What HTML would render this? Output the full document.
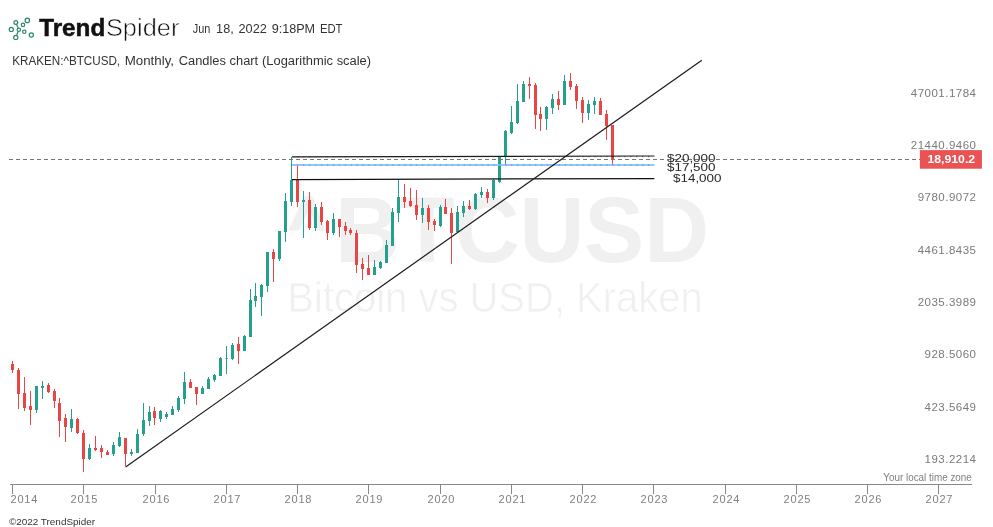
<!DOCTYPE html>
<html><head><meta charset="utf-8"><style>
html,body{margin:0;padding:0;background:#fff;}
body{width:993px;height:527px;overflow:hidden;position:relative;font-family:"Liberation Sans",sans-serif;}
svg{position:absolute;left:0;top:0;will-change:transform;}
.yl{font-size:11px;fill:#808080;letter-spacing:0.8px;}
.pl{font-size:11.5px;fill:#7a7a7a;letter-spacing:0.5px;}
.wm1{font-size:92.5px;font-weight:bold;fill:#f0f0f0;}
.wm2{font-size:43px;fill:#f0f0f0;stroke:#fff;stroke-width:0.6px;}
.hl{font-size:11.5px;fill:#262626;}
</style></head><body>
<svg width="993" height="527" viewBox="0 0 993 527">
<polygon points="288.2,230.5 304.2,196.3 312.3,196.3 324.9,230.5 317.1,230.5 309.1,209 299.1,230.5" fill="#f0f0f0"/>
<text id="wm1" x="335" y="262" class="wm1" textLength="374" lengthAdjust="spacingAndGlyphs">BTCUSD</text>
<text id="wm2" x="287.3" y="312.3" class="wm2" textLength="415.5" lengthAdjust="spacingAndGlyphs">Bitcoin vs USD, Kraken</text>
<g id="candles">
<rect x="12" y="361" width="1" height="12" fill="#e84545"/>
<rect x="11" y="364" width="3" height="6" fill="#e84545"/>
<rect x="18" y="368" width="1" height="41" fill="#e84545"/>
<rect x="17" y="370" width="3" height="24" fill="#e84545"/>
<rect x="24" y="377" width="1" height="34" fill="#e84545"/>
<rect x="23" y="393" width="3" height="15" fill="#e84545"/>
<rect x="30" y="391" width="1" height="34" fill="#e84545"/>
<rect x="29" y="406" width="3" height="4" fill="#e84545"/>
<rect x="36" y="386" width="1" height="27" fill="#26a08e"/>
<rect x="35" y="386" width="3" height="24" fill="#26a08e"/>
<rect x="42" y="381" width="1" height="18" fill="#26a08e"/>
<rect x="41" y="386" width="3" height="2" fill="#26a08e"/>
<rect x="48" y="383" width="1" height="10" fill="#e84545"/>
<rect x="47" y="385" width="3" height="7" fill="#e84545"/>
<rect x="54" y="389" width="1" height="19" fill="#e84545"/>
<rect x="53" y="391" width="3" height="10" fill="#e84545"/>
<rect x="59" y="398" width="1" height="39" fill="#e84545"/>
<rect x="58" y="403" width="3" height="18" fill="#e84545"/>
<rect x="65" y="414" width="1" height="28" fill="#e84545"/>
<rect x="64" y="418" width="3" height="9" fill="#e84545"/>
<rect x="71" y="409" width="1" height="23" fill="#26a08e"/>
<rect x="70" y="419" width="3" height="9" fill="#26a08e"/>
<rect x="77" y="418" width="1" height="16" fill="#e84545"/>
<rect x="76" y="419" width="3" height="14" fill="#e84545"/>
<rect x="83" y="430" width="1" height="42" fill="#e84545"/>
<rect x="82" y="433" width="3" height="26" fill="#e84545"/>
<rect x="89" y="444" width="1" height="16" fill="#26a08e"/>
<rect x="88" y="448" width="3" height="11" fill="#26a08e"/>
<rect x="95" y="436" width="1" height="15" fill="#e84545"/>
<rect x="94" y="448" width="3" height="2" fill="#e84545"/>
<rect x="101" y="445" width="1" height="13" fill="#e84545"/>
<rect x="100" y="448" width="3" height="4" fill="#e84545"/>
<rect x="107" y="450" width="1" height="5" fill="#e84545"/>
<rect x="106" y="452" width="3" height="3" fill="#e84545"/>
<rect x="113" y="442" width="1" height="14" fill="#26a08e"/>
<rect x="112" y="445" width="3" height="9" fill="#26a08e"/>
<rect x="119" y="432" width="1" height="15" fill="#26a08e"/>
<rect x="118" y="437" width="3" height="9" fill="#26a08e"/>
<rect x="125" y="438" width="1" height="28" fill="#e84545"/>
<rect x="124" y="438" width="3" height="16" fill="#e84545"/>
<rect x="131" y="449" width="1" height="7" fill="#26a08e"/>
<rect x="130" y="452" width="3" height="2" fill="#26a08e"/>
<rect x="137" y="429" width="1" height="24" fill="#26a08e"/>
<rect x="136" y="434" width="3" height="19" fill="#26a08e"/>
<rect x="143" y="403" width="1" height="33" fill="#26a08e"/>
<rect x="142" y="420" width="3" height="14" fill="#26a08e"/>
<rect x="149" y="406" width="1" height="20" fill="#26a08e"/>
<rect x="148" y="412" width="3" height="9" fill="#26a08e"/>
<rect x="154" y="407" width="1" height="18" fill="#e84545"/>
<rect x="153" y="411" width="3" height="7" fill="#e84545"/>
<rect x="160" y="410" width="1" height="12" fill="#26a08e"/>
<rect x="159" y="411" width="3" height="8" fill="#26a08e"/>
<rect x="166" y="412" width="1" height="7" fill="#26a08e"/>
<rect x="165" y="414" width="3" height="3" fill="#26a08e"/>
<rect x="172" y="406" width="1" height="9" fill="#26a08e"/>
<rect x="171" y="409" width="3" height="6" fill="#26a08e"/>
<rect x="178" y="396" width="1" height="16" fill="#26a08e"/>
<rect x="177" y="398" width="3" height="12" fill="#26a08e"/>
<rect x="184" y="372" width="1" height="32" fill="#26a08e"/>
<rect x="183" y="382" width="3" height="17" fill="#26a08e"/>
<rect x="190" y="379" width="1" height="9" fill="#e84545"/>
<rect x="189" y="382" width="3" height="6" fill="#e84545"/>
<rect x="196" y="387" width="1" height="18" fill="#e84545"/>
<rect x="195" y="387" width="3" height="7" fill="#e84545"/>
<rect x="202" y="386" width="1" height="8" fill="#26a08e"/>
<rect x="201" y="388" width="3" height="6" fill="#26a08e"/>
<rect x="208" y="377" width="1" height="12" fill="#26a08e"/>
<rect x="207" y="379" width="3" height="10" fill="#26a08e"/>
<rect x="214" y="374" width="1" height="8" fill="#26a08e"/>
<rect x="213" y="375" width="3" height="5" fill="#26a08e"/>
<rect x="220" y="357" width="1" height="19" fill="#26a08e"/>
<rect x="219" y="358" width="3" height="18" fill="#26a08e"/>
<rect x="226" y="346" width="1" height="28" fill="#26a08e"/>
<rect x="225" y="358.2" width="3" height="0.6" fill="#26a08e"/>
<rect x="232" y="343" width="1" height="17" fill="#26a08e"/>
<rect x="231" y="345" width="3" height="14" fill="#26a08e"/>
<rect x="238" y="337" width="1" height="27" fill="#e84545"/>
<rect x="237" y="344" width="3" height="7" fill="#e84545"/>
<rect x="244" y="335" width="1" height="16" fill="#26a08e"/>
<rect x="243" y="336" width="3" height="15" fill="#26a08e"/>
<rect x="250" y="289" width="1" height="48" fill="#26a08e"/>
<rect x="249" y="300" width="3" height="37" fill="#26a08e"/>
<rect x="255" y="283" width="1" height="24" fill="#26a08e"/>
<rect x="254" y="296" width="3" height="5" fill="#26a08e"/>
<rect x="261" y="284" width="1" height="32" fill="#26a08e"/>
<rect x="260" y="285" width="3" height="12" fill="#26a08e"/>
<rect x="267" y="252" width="1" height="40" fill="#26a08e"/>
<rect x="266" y="252" width="3" height="34" fill="#26a08e"/>
<rect x="273" y="249" width="1" height="33" fill="#e84545"/>
<rect x="272" y="252" width="3" height="7" fill="#e84545"/>
<rect x="279" y="231" width="1" height="30" fill="#26a08e"/>
<rect x="278" y="231" width="3" height="28" fill="#26a08e"/>
<rect x="285" y="193" width="1" height="49" fill="#26a08e"/>
<rect x="284" y="201" width="3" height="31" fill="#26a08e"/>
<rect x="291" y="157" width="1" height="49" fill="#26a08e"/>
<rect x="290" y="180" width="3" height="22" fill="#26a08e"/>
<rect x="297" y="166" width="1" height="41" fill="#e84545"/>
<rect x="296" y="180" width="3" height="22" fill="#e84545"/>
<rect x="303" y="191" width="1" height="47" fill="#26a08e"/>
<rect x="302" y="200" width="3" height="2" fill="#26a08e"/>
<rect x="309" y="192" width="1" height="38" fill="#e84545"/>
<rect x="308" y="200" width="3" height="28" fill="#e84545"/>
<rect x="315" y="204" width="1" height="27" fill="#26a08e"/>
<rect x="314" y="207" width="3" height="21" fill="#26a08e"/>
<rect x="321" y="202" width="1" height="23" fill="#e84545"/>
<rect x="320" y="207" width="3" height="15" fill="#e84545"/>
<rect x="327" y="220" width="1" height="20" fill="#e84545"/>
<rect x="326" y="221" width="3" height="12" fill="#e84545"/>
<rect x="333" y="213" width="1" height="22" fill="#26a08e"/>
<rect x="332" y="219" width="3" height="14" fill="#26a08e"/>
<rect x="339" y="219" width="1" height="18" fill="#e84545"/>
<rect x="338" y="219" width="3" height="8" fill="#e84545"/>
<rect x="345" y="222" width="1" height="13" fill="#e84545"/>
<rect x="344" y="226" width="3" height="5" fill="#e84545"/>
<rect x="350" y="228" width="1" height="7" fill="#e84545"/>
<rect x="349" y="230" width="3" height="3" fill="#e84545"/>
<rect x="356" y="230" width="1" height="43" fill="#e84545"/>
<rect x="355" y="233" width="3" height="32" fill="#e84545"/>
<rect x="362" y="258" width="1" height="22" fill="#e84545"/>
<rect x="361" y="264" width="3" height="5" fill="#e84545"/>
<rect x="368" y="255" width="1" height="20" fill="#e84545"/>
<rect x="367" y="268" width="3" height="7" fill="#e84545"/>
<rect x="374" y="260" width="1" height="15" fill="#26a08e"/>
<rect x="373" y="267" width="3" height="8" fill="#26a08e"/>
<rect x="380" y="261" width="1" height="8" fill="#26a08e"/>
<rect x="379" y="262" width="3" height="6" fill="#26a08e"/>
<rect x="386" y="240" width="1" height="23" fill="#26a08e"/>
<rect x="385" y="245" width="3" height="18" fill="#26a08e"/>
<rect x="392" y="208" width="1" height="38" fill="#26a08e"/>
<rect x="391" y="212" width="3" height="34" fill="#26a08e"/>
<rect x="398" y="179" width="1" height="43" fill="#26a08e"/>
<rect x="397" y="197" width="3" height="16" fill="#26a08e"/>
<rect x="404" y="184" width="1" height="24" fill="#e84545"/>
<rect x="403" y="197" width="3" height="5" fill="#e84545"/>
<rect x="410" y="188" width="1" height="19" fill="#e84545"/>
<rect x="409" y="201" width="3" height="5" fill="#e84545"/>
<rect x="416" y="190" width="1" height="30" fill="#e84545"/>
<rect x="415" y="205" width="3" height="10" fill="#e84545"/>
<rect x="422" y="198" width="1" height="25" fill="#26a08e"/>
<rect x="421" y="208" width="3" height="7" fill="#26a08e"/>
<rect x="428" y="205" width="1" height="25" fill="#e84545"/>
<rect x="427" y="208" width="3" height="14" fill="#e84545"/>
<rect x="434" y="219" width="1" height="12" fill="#e84545"/>
<rect x="433" y="221" width="3" height="4" fill="#e84545"/>
<rect x="440" y="205" width="1" height="22" fill="#26a08e"/>
<rect x="439" y="207" width="3" height="19" fill="#26a08e"/>
<rect x="445" y="199" width="1" height="15" fill="#e84545"/>
<rect x="444" y="207" width="3" height="7" fill="#e84545"/>
<rect x="451" y="208" width="1" height="56" fill="#e84545"/>
<rect x="450" y="213" width="3" height="20" fill="#e84545"/>
<rect x="457" y="206" width="1" height="26" fill="#26a08e"/>
<rect x="456" y="212" width="3" height="20" fill="#26a08e"/>
<rect x="463" y="201" width="1" height="16" fill="#26a08e"/>
<rect x="462" y="206" width="3" height="7" fill="#26a08e"/>
<rect x="469" y="200" width="1" height="10" fill="#e84545"/>
<rect x="468" y="206" width="3" height="3" fill="#e84545"/>
<rect x="475" y="193" width="1" height="17" fill="#26a08e"/>
<rect x="474" y="194" width="3" height="15" fill="#26a08e"/>
<rect x="481" y="187" width="1" height="11" fill="#26a08e"/>
<rect x="480" y="192" width="3" height="3" fill="#26a08e"/>
<rect x="487" y="189" width="1" height="14" fill="#e84545"/>
<rect x="486" y="192" width="3" height="6" fill="#e84545"/>
<rect x="493" y="179" width="1" height="21" fill="#26a08e"/>
<rect x="492" y="180" width="3" height="18" fill="#26a08e"/>
<rect x="499" y="157" width="1" height="26" fill="#26a08e"/>
<rect x="498" y="157" width="3" height="25" fill="#26a08e"/>
<rect x="505" y="130" width="1" height="34" fill="#26a08e"/>
<rect x="504" y="131" width="3" height="26" fill="#26a08e"/>
<rect x="511" y="106" width="1" height="28" fill="#26a08e"/>
<rect x="510" y="122" width="3" height="11" fill="#26a08e"/>
<rect x="517" y="84" width="1" height="40" fill="#26a08e"/>
<rect x="516" y="101" width="3" height="22" fill="#26a08e"/>
<rect x="523" y="81" width="1" height="21" fill="#26a08e"/>
<rect x="522" y="84" width="3" height="18" fill="#26a08e"/>
<rect x="529" y="77" width="1" height="22" fill="#e84545"/>
<rect x="528" y="84" width="3" height="2" fill="#e84545"/>
<rect x="535" y="83" width="1" height="46" fill="#e84545"/>
<rect x="534" y="85" width="3" height="30" fill="#e84545"/>
<rect x="540" y="107" width="1" height="24" fill="#e84545"/>
<rect x="539" y="114" width="3" height="5" fill="#e84545"/>
<rect x="546" y="106" width="1" height="24" fill="#26a08e"/>
<rect x="545" y="107" width="3" height="12" fill="#26a08e"/>
<rect x="552" y="94" width="1" height="20" fill="#26a08e"/>
<rect x="551" y="99" width="3" height="9" fill="#26a08e"/>
<rect x="558" y="91" width="1" height="19" fill="#e84545"/>
<rect x="557" y="99" width="3" height="6" fill="#e84545"/>
<rect x="564" y="75" width="1" height="30" fill="#26a08e"/>
<rect x="563" y="81" width="3" height="24" fill="#26a08e"/>
<rect x="570" y="73" width="1" height="17" fill="#e84545"/>
<rect x="569" y="81" width="3" height="6" fill="#e84545"/>
<rect x="576" y="84" width="1" height="25" fill="#e84545"/>
<rect x="575" y="86" width="3" height="15" fill="#e84545"/>
<rect x="582" y="97" width="1" height="26" fill="#e84545"/>
<rect x="581" y="100" width="3" height="13" fill="#e84545"/>
<rect x="588" y="100" width="1" height="20" fill="#26a08e"/>
<rect x="587" y="104" width="3" height="9" fill="#26a08e"/>
<rect x="594" y="97" width="1" height="17" fill="#26a08e"/>
<rect x="593" y="101" width="3" height="4" fill="#26a08e"/>
<rect x="600" y="98" width="1" height="17" fill="#e84545"/>
<rect x="599" y="101" width="3" height="14" fill="#e84545"/>
<rect x="606" y="110" width="1" height="30" fill="#e84545"/>
<rect x="605" y="114" width="3" height="12" fill="#e84545"/>
<rect x="612" y="125" width="1" height="39" fill="#e84545"/>
<rect x="611" y="125" width="3" height="35" fill="#e84545"/>
</g>
<line x1="9" y1="159.5" x2="920" y2="159.5" stroke="#777" stroke-width="1" stroke-dasharray="4 3"/>
<line x1="292" y1="156.9" x2="654.5" y2="156.0" stroke="#1a1a1a" stroke-width="1.15"/>
<rect x="292" y="164.1" width="362.5" height="1.8" fill="#8cc0f2"/>
<g fill="#5a9fe6"><circle cx="297.8" cy="165" r="0.8"/><circle cx="303.7" cy="165" r="0.8"/><circle cx="309.7" cy="165" r="0.8"/><circle cx="315.6" cy="165" r="0.8"/><circle cx="321.6" cy="165" r="0.8"/><circle cx="327.5" cy="165" r="0.8"/><circle cx="333.5" cy="165" r="0.8"/><circle cx="339.4" cy="165" r="0.8"/><circle cx="345.4" cy="165" r="0.8"/><circle cx="351.3" cy="165" r="0.8"/><circle cx="357.3" cy="165" r="0.8"/><circle cx="363.2" cy="165" r="0.8"/><circle cx="369.1" cy="165" r="0.8"/><circle cx="375.1" cy="165" r="0.8"/><circle cx="381.0" cy="165" r="0.8"/><circle cx="387.0" cy="165" r="0.8"/><circle cx="392.9" cy="165" r="0.8"/><circle cx="398.9" cy="165" r="0.8"/><circle cx="404.8" cy="165" r="0.8"/><circle cx="410.8" cy="165" r="0.8"/><circle cx="416.7" cy="165" r="0.8"/><circle cx="422.7" cy="165" r="0.8"/><circle cx="428.6" cy="165" r="0.8"/><circle cx="434.6" cy="165" r="0.8"/><circle cx="440.5" cy="165" r="0.8"/><circle cx="446.4" cy="165" r="0.8"/><circle cx="452.4" cy="165" r="0.8"/><circle cx="458.3" cy="165" r="0.8"/><circle cx="464.3" cy="165" r="0.8"/><circle cx="470.2" cy="165" r="0.8"/><circle cx="476.2" cy="165" r="0.8"/><circle cx="482.1" cy="165" r="0.8"/><circle cx="488.1" cy="165" r="0.8"/><circle cx="494.0" cy="165" r="0.8"/><circle cx="500.0" cy="165" r="0.8"/><circle cx="505.9" cy="165" r="0.8"/><circle cx="511.8" cy="165" r="0.8"/><circle cx="517.8" cy="165" r="0.8"/><circle cx="523.7" cy="165" r="0.8"/><circle cx="529.7" cy="165" r="0.8"/><circle cx="535.6" cy="165" r="0.8"/><circle cx="541.6" cy="165" r="0.8"/><circle cx="547.5" cy="165" r="0.8"/><circle cx="553.5" cy="165" r="0.8"/><circle cx="559.4" cy="165" r="0.8"/><circle cx="565.4" cy="165" r="0.8"/><circle cx="571.3" cy="165" r="0.8"/><circle cx="577.3" cy="165" r="0.8"/><circle cx="583.2" cy="165" r="0.8"/><circle cx="589.1" cy="165" r="0.8"/><circle cx="595.1" cy="165" r="0.8"/><circle cx="601.0" cy="165" r="0.8"/><circle cx="607.0" cy="165" r="0.8"/><circle cx="612.9" cy="165" r="0.8"/><circle cx="618.9" cy="165" r="0.8"/><circle cx="624.8" cy="165" r="0.8"/><circle cx="630.8" cy="165" r="0.8"/><circle cx="636.7" cy="165" r="0.8"/><circle cx="642.7" cy="165" r="0.8"/><circle cx="648.6" cy="165" r="0.8"/></g>
<g fill="#333"><circle cx="297.8" cy="156.6" r="0.6"/><circle cx="303.7" cy="156.6" r="0.6"/><circle cx="309.7" cy="156.6" r="0.6"/><circle cx="315.6" cy="156.6" r="0.6"/><circle cx="321.6" cy="156.6" r="0.6"/><circle cx="327.5" cy="156.6" r="0.6"/><circle cx="333.5" cy="156.6" r="0.6"/><circle cx="339.4" cy="156.6" r="0.6"/><circle cx="345.4" cy="156.6" r="0.6"/><circle cx="351.3" cy="156.6" r="0.6"/><circle cx="357.3" cy="156.6" r="0.6"/><circle cx="363.2" cy="156.6" r="0.6"/><circle cx="369.1" cy="156.6" r="0.6"/><circle cx="375.1" cy="156.6" r="0.6"/><circle cx="381.0" cy="156.6" r="0.6"/><circle cx="387.0" cy="156.6" r="0.6"/><circle cx="392.9" cy="156.6" r="0.6"/><circle cx="398.9" cy="156.6" r="0.6"/><circle cx="404.8" cy="156.6" r="0.6"/><circle cx="410.8" cy="156.6" r="0.6"/><circle cx="416.7" cy="156.6" r="0.6"/><circle cx="422.7" cy="156.6" r="0.6"/><circle cx="428.6" cy="156.6" r="0.6"/><circle cx="434.6" cy="156.6" r="0.6"/><circle cx="440.5" cy="156.6" r="0.6"/><circle cx="446.4" cy="156.6" r="0.6"/><circle cx="452.4" cy="156.6" r="0.6"/><circle cx="458.3" cy="156.6" r="0.6"/><circle cx="464.3" cy="156.6" r="0.6"/><circle cx="470.2" cy="156.6" r="0.6"/><circle cx="476.2" cy="156.6" r="0.6"/><circle cx="482.1" cy="156.6" r="0.6"/><circle cx="488.1" cy="156.6" r="0.6"/><circle cx="494.0" cy="156.6" r="0.6"/><circle cx="500.0" cy="156.6" r="0.6"/><circle cx="505.9" cy="156.6" r="0.6"/><circle cx="511.8" cy="156.6" r="0.6"/><circle cx="517.8" cy="156.6" r="0.6"/><circle cx="523.7" cy="156.6" r="0.6"/><circle cx="529.7" cy="156.6" r="0.6"/><circle cx="535.6" cy="156.6" r="0.6"/><circle cx="541.6" cy="156.6" r="0.6"/><circle cx="547.5" cy="156.6" r="0.6"/><circle cx="553.5" cy="156.6" r="0.6"/><circle cx="559.4" cy="156.6" r="0.6"/><circle cx="565.4" cy="156.6" r="0.6"/><circle cx="571.3" cy="156.6" r="0.6"/><circle cx="577.3" cy="156.6" r="0.6"/><circle cx="583.2" cy="156.6" r="0.6"/><circle cx="589.1" cy="156.6" r="0.6"/><circle cx="595.1" cy="156.6" r="0.6"/><circle cx="601.0" cy="156.6" r="0.6"/><circle cx="607.0" cy="156.6" r="0.6"/><circle cx="612.9" cy="156.6" r="0.6"/><circle cx="618.9" cy="156.6" r="0.6"/><circle cx="624.8" cy="156.6" r="0.6"/><circle cx="630.8" cy="156.6" r="0.6"/><circle cx="636.7" cy="156.6" r="0.6"/><circle cx="642.7" cy="156.6" r="0.6"/><circle cx="648.6" cy="156.6" r="0.6"/></g>
<line x1="292" y1="179.55" x2="654.3" y2="178.55" stroke="#111" stroke-width="1.2"/>
<line x1="125.6" y1="466.95" x2="701.8" y2="60.15" stroke="#1a1a1a" stroke-width="1.2"/>
<text id="h20" x="667" y="162.4" class="hl" textLength="48.5" lengthAdjust="spacingAndGlyphs">$20,000</text>
<text id="h17" x="667" y="171.3" class="hl" textLength="48.5" lengthAdjust="spacingAndGlyphs">$17,500</text>
<text id="h14" x="673" y="182.3" class="hl" textLength="48.5" lengthAdjust="spacingAndGlyphs">$14,000</text>
<rect x="10" y="484" width="962" height="1" fill="#888"/>
<rect x="12" y="484" width="1" height="10" fill="#888"/>
<text id="yr2014" x="10.5" y="503" class="yl">2014</text>
<rect x="83" y="484" width="1" height="10" fill="#888"/>
<text id="yr2015" x="84.4" y="503" class="yl" text-anchor="middle">2015</text>
<rect x="155" y="484" width="1" height="10" fill="#888"/>
<text id="yr2016" x="156.4" y="503" class="yl" text-anchor="middle">2016</text>
<rect x="226" y="484" width="1" height="10" fill="#888"/>
<text id="yr2017" x="227.4" y="503" class="yl" text-anchor="middle">2017</text>
<rect x="297" y="484" width="1" height="10" fill="#888"/>
<text id="yr2018" x="298.4" y="503" class="yl" text-anchor="middle">2018</text>
<rect x="368" y="484" width="1" height="10" fill="#888"/>
<text id="yr2019" x="369.4" y="503" class="yl" text-anchor="middle">2019</text>
<rect x="440" y="484" width="1" height="10" fill="#888"/>
<text id="yr2020" x="441.4" y="503" class="yl" text-anchor="middle">2020</text>
<rect x="511" y="484" width="1" height="10" fill="#888"/>
<text id="yr2021" x="512.4" y="503" class="yl" text-anchor="middle">2021</text>
<rect x="582" y="484" width="1" height="10" fill="#888"/>
<text id="yr2022" x="583.4" y="503" class="yl" text-anchor="middle">2022</text>
<rect x="653" y="484" width="1" height="10" fill="#888"/>
<text id="yr2023" x="654.4" y="503" class="yl" text-anchor="middle">2023</text>
<rect x="725" y="484" width="1" height="10" fill="#888"/>
<text id="yr2024" x="726.4" y="503" class="yl" text-anchor="middle">2024</text>
<rect x="796" y="484" width="1" height="10" fill="#888"/>
<text id="yr2025" x="797.4" y="503" class="yl" text-anchor="middle">2025</text>
<rect x="867" y="484" width="1" height="10" fill="#888"/>
<text id="yr2026" x="868.4" y="503" class="yl" text-anchor="middle">2026</text>
<rect x="938" y="484" width="1" height="10" fill="#888"/>
<text id="yr2027" x="939.4" y="503" class="yl" text-anchor="middle">2027</text>
<text id="tz" x="971.8" y="481" style="font-size:10px;fill:#808080" textLength="88.5" lengthAdjust="spacingAndGlyphs" text-anchor="end">Your local time zone</text>
<text id="pl0" x="976.5" y="97.2" class="pl" text-anchor="end">47001.1784</text>
<text id="pl1" x="976.5" y="149.0" class="pl" text-anchor="end">21440.9460</text>
<text id="pl2" x="976.5" y="201.0" class="pl" text-anchor="end">9780.9072</text>
<text id="pl3" x="976.5" y="254.0" class="pl" text-anchor="end">4461.8435</text>
<text id="pl4" x="976.5" y="306.0" class="pl" text-anchor="end">2035.3989</text>
<text id="pl5" x="976.5" y="358.0" class="pl" text-anchor="end">928.5060</text>
<text id="pl6" x="976.5" y="411.0" class="pl" text-anchor="end">423.5649</text>
<text id="pl7" x="976.5" y="463.0" class="pl" text-anchor="end">193.2214</text>
<rect x="919.9" y="150.1" width="62" height="18.6" fill="#e95353"/>
<text id="lab" x="927.5" y="163" style="font-size:11.5px;font-weight:bold;fill:#fff" textLength="47.6" lengthAdjust="spacingAndGlyphs">18,910.2</text>
<g id="logo" fill="none" stroke="#2a8a6e" stroke-width="1.2">
<circle cx="11.3" cy="29.4" r="2.1"/><circle cx="15.8" cy="22.5" r="1.9"/><circle cx="18.8" cy="29.8" r="1.7"/>
<circle cx="15.8" cy="37.4" r="2.1"/><circle cx="23.0" cy="24.9" r="1.7"/><circle cx="27.3" cy="20.4" r="2.2"/>
<circle cx="24.3" cy="31.8" r="1.7"/><circle cx="31.3" cy="35.0" r="2.1"/>
<line x1="16.4" y1="24.3" x2="18.2" y2="28.1"/><line x1="18.2" y1="31.5" x2="16.5" y2="35.4"/>
</g>
<text id="trend" x="39.2" y="36.3" style="font-size:23px;font-weight:bold;fill:#111;stroke:#111;stroke-width:0.5px" textLength="66" lengthAdjust="spacingAndGlyphs">Trend</text>
<text id="spider" x="105.9" y="36.3" style="font-size:23px;fill:#111;stroke:#fff;stroke-width:0.55px" textLength="73.5" lengthAdjust="spacingAndGlyphs">Spider</text>
<text id="d1" x="192.8" y="32.9" style="font-size:12px;fill:#333" textLength="17.6" lengthAdjust="spacingAndGlyphs">Jun</text>
<text id="d2" x="216.1" y="32.9" style="font-size:12px;fill:#333" textLength="17.6" lengthAdjust="spacingAndGlyphs">18,</text>
<text id="d3" x="238.5" y="32.9" style="font-size:12px;fill:#333" textLength="28.4" lengthAdjust="spacingAndGlyphs">2022</text>
<text id="d4" x="271.7" y="32.9" style="font-size:12px;fill:#333" textLength="43.4" lengthAdjust="spacingAndGlyphs">9:18PM</text>
<text id="d5" x="319.9" y="32.9" style="font-size:12px;fill:#333" textLength="22.6" lengthAdjust="spacingAndGlyphs">EDT</text>
<text id="s1" x="12.3" y="65.3" style="font-size:12px;fill:#333" textLength="107.8" lengthAdjust="spacingAndGlyphs">KRAKEN:^BTCUSD,</text>
<text id="s2" x="124.7" y="65.3" style="font-size:12px;fill:#333" textLength="49.4" lengthAdjust="spacingAndGlyphs">Monthly,</text>
<text id="s3" x="178.7" y="65.3" style="font-size:12px;fill:#333" textLength="79.5" lengthAdjust="spacingAndGlyphs">Candles chart</text>
<text id="s4" x="262.0" y="65.3" style="font-size:12px;fill:#333" textLength="109.1" lengthAdjust="spacingAndGlyphs">(Logarithmic scale)</text>
<text id="foot" x="8.9" y="524.6" style="font-size:9.6px;fill:#333" textLength="86.2" lengthAdjust="spacingAndGlyphs">©2022 TrendSpider</text>
</svg>
</body></html>
